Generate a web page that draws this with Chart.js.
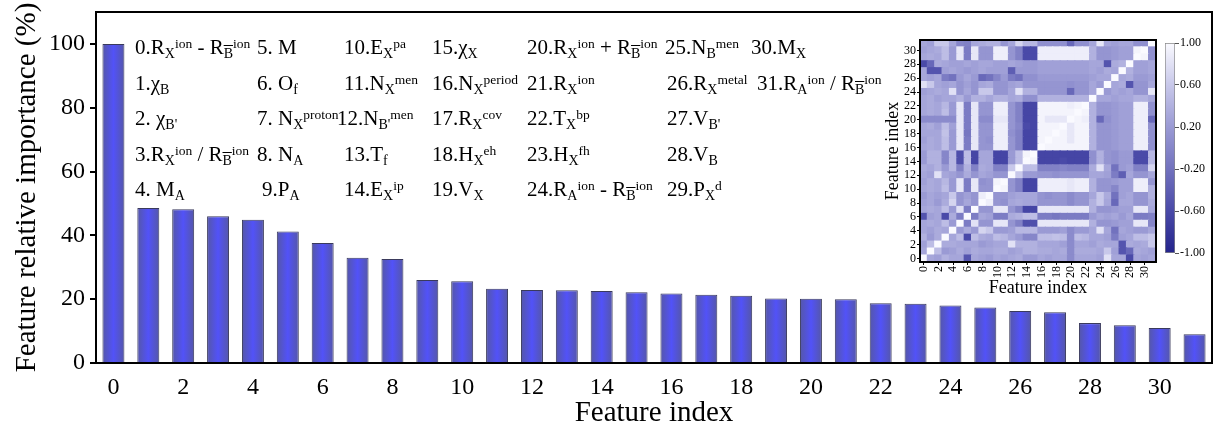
<!DOCTYPE html>
<html>
<head>
<meta charset="utf-8">
<script src="https://cdn.jsdelivr.net/npm/chart.js@4.4.0/dist/chart.umd.min.js"></script>
<style>
  body { margin: 0; background: #fff; overflow: hidden; font-family: "Liberation Serif", "Times New Roman", serif; }
  #wrap { position: relative; width: 1217px; height: 431px; }
  canvas { position: absolute; }
  .lbl { position: absolute; font-size: 21px; line-height: 21px; white-space: nowrap; color: #000; }
  .lbl .s { font-size: 14px; position: relative; top: 4px; }
  .lbl .p { font-size: 13.5px; position: relative; top: -6px; }
  .ob { text-decoration: overline; }
</style>
</head>
<body>
<div id="wrap">
  <canvas id="main" width="1217" height="431" style="left:0;top:0"></canvas>
  <canvas id="heat" width="290" height="270" style="left:880px;top:30px"></canvas>
  <canvas id="cbar" width="50" height="230" style="left:1160px;top:33px"></canvas>
</div>
<script>
// ---- data ----
const featureIdx = ['0','1','2','3','4','5','6','7','8','9','10','11','12','13','14','15',
  '16','17','18','19','20','21','22','23','24','25','26','27','28','29','30','31'];

const importance = [100, 48.6, 48.2, 46.0, 44.9, 41.2, 37.6, 33.0, 32.6, 26.0, 25.6, 23.3,
  22.9, 22.8, 22.6, 22.2, 21.8, 21.4, 21.1, 20.2, 20.1, 20.0, 18.7, 18.6, 18.0, 17.4,
  16.3, 15.9, 12.5, 11.8, 11.0, 9.0];

const yTicks = [0, 20, 40, 60, 80, 100];
const heatTicks = [0, 2, 4, 6, 8, 10, 12, 14, 16, 18, 20, 22, 24, 26, 28, 30];
const cbTicks = [-1, -0.6, -0.2, 0.2, 0.6, 1];

// correlation matrix, lower triangle (row i holds columns 0..i)
const corrLow = [
  [1],
  [0.3, 1],
  [0.25, 0.5, 1],
  [0.4, 0.2, 0.35, 1],
  [0.3, 0.25, 0.35, 0.3, 1],
  [0.3, 0.35, 0.3, 0.5, 0.2, 1],
  [-0.5, 0.25, 0.3, -0.6, 0.35, -0.1, 1],
  [0.3, 0.35, 0.3, 0.5, 0.2, 0.8, -0.1, 1],
  [0.25, 0.3, 0.2, 0.35, 0.7, 0.15, 0.3, 0.15, 1],
  [0.2, 0.3, 0.25, 0.3, 0.6, 0.15, 0.25, 0.15, 0.9, 1],
  [0.3, 0.35, 0.3, 0.5, 0.2, 0.85, -0.1, 0.85, 0.15, 0.15, 1],
  [0.25, 0.35, 0.3, 0.45, 0.2, 0.85, -0.1, 0.85, 0.1, 0.15, 0.95, 1],
  [0.3, 0.25, 0.8, 0.3, 0.25, 0.15, 0.35, 0.15, 0.3, 0.25, 0.15, 0.15, 1],
  [0.35, 0.3, 0.4, 0.2, 0.45, -0.05, 0.4, -0.05, 0.35, 0.3, -0.05, -0.05, 0.6, 1],
  [0.2, 0.4, 0.4, 0.0, 0.45, -0.55, 0.5, -0.65, 0.3, 0.3, -0.65, -0.65, 0.2, 0.5, 1],
  [0.2, 0.4, 0.4, 0.0, 0.45, -0.55, 0.5, -0.65, 0.3, 0.3, -0.65, -0.65, 0.2, 0.5, 0.95, 1],
  [0.3, 0.35, 0.3, 0.5, 0.2, 0.85, -0.1, 0.85, 0.15, 0.15, 0.9, 0.9, 0.15, -0.05, -0.65, -0.65, 1],
  [0.25, 0.35, 0.3, 0.5, 0.2, 0.85, -0.1, 0.85, 0.15, 0.1, 0.9, 0.9, 0.15, -0.05, -0.65, -0.65, 0.95, 1],
  [0.3, 0.3, 0.3, 0.55, 0.2, 0.85, -0.15, 0.85, 0.15, 0.15, 0.9, 0.9, 0.1, -0.05, -0.65, -0.65, 0.95, 0.95, 1],
  [0.3, 0.35, 0.25, 0.5, 0.25, 0.85, -0.1, 0.85, 0.15, 0.15, 0.9, 0.9, 0.15, 0.0, -0.6, -0.65, 0.95, 0.95, 0.95, 1],
  [0.05, 0.05, 0.05, 0.05, 0.05, 0.85, -0.1, 0.85, 0.05, 0.05, 0.85, 0.85, 0.15, -0.05, -0.65, -0.65, 0.95, 0.85, 0.85, 0.85, 1],
  [0.3, 0.35, 0.3, 0.5, 0.2, 0.85, -0.1, 0.85, 0.15, 0.15, 0.9, 0.9, 0.15, -0.05, -0.65, -0.65, 0.95, 0.95, 0.95, 0.95, 0.95, 1],
  [0.3, 0.35, 0.3, 0.45, 0.2, 0.85, -0.1, 0.85, 0.15, 0.15, 0.9, 0.9, 0.15, -0.05, -0.65, -0.65, 0.95, 0.95, 0.95, 0.95, 0.9, 0.95, 1],
  [0.3, 0.35, 0.25, 0.3, 0.3, 0.4, 0.2, 0.4, 0.4, 0.3, 0.4, 0.4, 0.3, 0.35, 0.1, 0.1, 0.4, 0.4, 0.4, 0.4, 0.4, 0.4, 0.4, 1],
  [0.25, 0.3, 0.35, 0.3, 0.8, 0.15, 0.3, 0.15, 0.6, 0.6, 0.15, 0.15, 0.3, 0.8, 0.4, 0.4, 0.15, 0.15, 0.15, 0.15, -0.3, 0.15, 0.15, 0.3, 1],
  [0.8, 0.6, 0.3, 0.25, 0.3, 0.15, 0.25, 0.15, 0.3, 0.35, 0.15, 0.15, 0.25, 0.3, 0.15, 0.15, 0.15, 0.15, 0.15, 0.15, 0.1, 0.15, 0.15, 0.3, 0.2, 1],
  [0.3, 0.25, 0.3, -0.1, -0.2, 0.2, 0.3, 0.2, -0.3, -0.2, 0.0, 0.2, -0.1, -0.2, 0.1, 0.1, 0.2, 0.2, 0.2, 0.2, 0.2, 0.2, 0.2, 0.25, 0.3, 0.3, 1],
  [0.3, -0.5, -0.5, 0.25, 0.3, 0.25, 0.2, 0.25, 0.3, 0.25, 0.25, 0.25, -0.4, 0.2, 0.2, 0.2, 0.25, 0.25, 0.25, 0.25, 0.25, 0.25, 0.25, 0.3, 0.25, 0.35, 0.3, 1],
  [-0.6, -0.3, 0.35, 0.3, 0.25, 0.25, 0.3, 0.25, 0.3, 0.3, 0.25, 0.25, 0.3, 0.25, 0.2, 0.2, 0.25, 0.25, 0.25, 0.25, 0.25, 0.25, 0.25, 0.3, 0.3, -0.5, 0.35, 0.4, 1],
  [0.3, 0.35, 0.3, 0.5, 0.2, 0.85, -0.1, 0.85, 0.15, 0.15, 0.9, 0.9, 0.15, -0.05, -0.6, -0.6, 0.9, 0.9, 0.9, 0.9, 0.9, 0.9, 0.9, 0.4, 0.15, 0.15, 0.2, 0.25, 0.25, 1],
  [0.25, 0.3, 0.35, 0.5, 0.2, 0.85, -0.1, 0.85, 0.15, 0.15, 0.9, 0.9, 0.15, -0.05, -0.6, -0.6, 0.9, 0.9, 0.9, 0.9, 0.9, 0.9, 0.9, 0.4, 0.15, 0.15, 0.2, 0.25, 0.25, 0.95, 1],
  [0.3, 0.25, 0.6, 0.6, 0.3, 0.0, -0.05, 0.3, 0.35, 0.4, 0.4, 0.15, 0.3, 0.7, 0.45, 0.45, 0.1, 0.1, 0.1, 0.1, -0.3, 0.1, 0.1, 0.3, 0.85, 0.3, 0.25, 0.3, 0.3, 0.1, 0.1, 1]
];

// feature names for the legend block
const s = t => '<span class="s">' + t + '</span>';
const p = t => '<span class="p">' + t + '</span>';
const ob = '<span class="ob">B</span>';
const featureNames = [
  '0.R' + s('X') + p('ion') + ' - R' + s(ob) + p('ion'),
  '1.χ' + s('B'),
  '2. χ' + s("B'"),
  '3.R' + s('X') + p('ion') + ' / R' + s(ob) + p('ion'),
  '4. M' + s('A'),
  '5. M',
  '6. O' + s('f'),
  '7. N' + s('X') + p('proton'),
  '8. N' + s('A'),
  '9.P' + s('A'),
  '10.E' + s('X') + p('pa'),
  '11.N' + s('X') + p('men'),
  '12.N' + s("B'") + p('men'),
  '13.T' + s('f'),
  '14.E' + s('X') + p('ip'),
  '15.χ' + s('X'),
  '16.N' + s('X') + p('period'),
  '17.R' + s('X') + p('cov'),
  '18.H' + s('X') + p('eh'),
  '19.V' + s('X'),
  '20.R' + s('X') + p('ion') + ' + R' + s(ob) + p('ion'),
  '21.R' + s('X') + p('ion'),
  '22.T' + s('X') + p('bp'),
  '23.H' + s('X') + p('fh'),
  '24.R' + s('A') + p('ion') + ' - R' + s(ob) + p('ion'),
  '25.N' + s('B') + p('men'),
  '26.R' + s('X') + p('metal'),
  '27.V' + s("B'"),
  '28.V' + s('B'),
  '29.P' + s('X') + p('d'),
  '30.M' + s('X'),
  '31.R' + s('A') + p('ion') + ' / R' + s(ob) + p('ion')
];

// ---- layout of the legend text ----
const annoCols = [135, 257, 344, 432, 527, 667, 755];
const annoBase = [55, 90.5, 126, 161.5, 197];
const annoFix = { 9: 262, 12: 337, 25: 665, 30: 751, 31: 757 };
const wrap = document.getElementById('wrap');
featureNames.forEach((html, i) => {
  const col = i < 30 ? Math.floor(i / 5) : 6;
  const row = i < 30 ? i % 5 : i - 30;
  const d = document.createElement('div');
  d.className = 'lbl';
  d.innerHTML = html;
  d.style.left = (annoFix[i] !== undefined ? annoFix[i] : annoCols[col]) + 'px';
  d.style.top = (annoBase[row] - 17.6) + 'px';
  wrap.appendChild(d);
});

// ---- colours ----
const stopVals = [-1, -0.6, -0.2, 0.2, 0.6, 1];
const stopRgb = [[36, 36, 140], [74, 74, 168], [114, 114, 190], [154, 154, 212], [200, 200, 234], [250, 250, 255]];
function heatColor(v) {
  let k = 0;
  while (k < stopVals.length - 2 && v > stopVals[k + 1]) k++;
  const t = Math.max(0, Math.min(1, (v - stopVals[k]) / (stopVals[k + 1] - stopVals[k])));
  const a = stopRgb[k], b = stopRgb[k + 1];
  return 'rgb(' + [0, 1, 2].map(j => Math.round(a[j] + (b[j] - a[j]) * t)).join(',') + ')';
}

Chart.defaults.font.family = '"Liberation Serif", "Times New Roman", serif';
Chart.defaults.color = '#000';

const frame = {
  id: 'frame',
  afterDraw(chart, args, opts) {
    const a = chart.chartArea, ctx = chart.ctx;
    ctx.save();
    ctx.strokeStyle = '#000';
    ctx.lineWidth = opts.w || 2;
    ctx.strokeRect(a.left, a.top, a.right - a.left, a.bottom - a.top);
    ctx.restore();
  }
};

const noPad = sc => { sc.paddingTop = 0; sc.paddingBottom = 0; sc.paddingLeft = 0; sc.paddingRight = 0; };

function barFill(ctx) {
  const ch = ctx.chart, xs = ch.scales.x;
  if (!ch.chartArea || !xs) return '#5656dc';
  const cx = xs.getPixelForValue(ctx.dataIndex);
  const half = xs.width / featureIdx.length * 0.63 / 2;
  const g = ch.ctx.createLinearGradient(cx - half, 0, cx + half, 0);
  g.addColorStop(0, '#5557a8');
  g.addColorStop(0.5, '#5252f8');
  g.addColorStop(1, '#5557a8');
  return g;
}

// ---- main bar chart ----
new Chart(document.getElementById('main'), {
  type: 'bar',
  data: {
    labels: featureIdx,
    datasets: [{
      data: importance,
      backgroundColor: barFill,
      borderColor: '#3a3a5c',
      borderWidth: 1,
      barPercentage: 0.63,
      categoryPercentage: 1
    }]
  },
  options: {
    responsive: false,
    animation: false,
    layout: { padding: { left: 0, right: 5, top: 12, bottom: 0 } },
    plugins: { legend: { display: false }, tooltip: { enabled: false }, frame: { w: 2 } },
    scales: {
      x: {
        grid: { display: false },
        border: { display: false },
        ticks: {
          autoSkip: false, maxRotation: 0, padding: 2, font: { size: 24 },
          callback: (v, i) => (i % 2 ? '' : featureIdx[i])
        },
        title: { display: true, text: 'Feature index', font: { size: 29 }, padding: { top: 0, bottom: 0 } },
        afterFit: sc => { sc.height = 68; noPad(sc); }
      },
      y: {
        min: 0, max: 110,
        afterBuildTicks: sc => { sc.ticks = yTicks.map(v => ({ value: v })); },
        grid: { drawOnChartArea: false, tickLength: 6, color: '#000', lineWidth: 2 },
        border: { display: false },
        ticks: { padding: 5, font: { size: 24 } },
        title: { display: true, text: 'Feature relative importance (%)', font: { size: 29 }, padding: { top: 10, bottom: 0 } },
        afterFit: sc => { sc.width = 96; noPad(sc); }
      }
    }
  },
  plugins: [frame]
});

// ---- inset heatmap ----
const corr = featureIdx.map((_, i) => featureIdx.map((_, j) => (i >= j ? corrLow[i][j] : corrLow[j][i])));
const heatSets = corr.map((row, r) => ({
  data: featureIdx.map(() => [r - 0.5, r + 0.5]),
  backgroundColor: row.map(heatColor),
  borderWidth: 0,
  barPercentage: 1,
  categoryPercentage: 1,
  grouped: false,
  inflateAmount: 0.6
}));

new Chart(document.getElementById('heat'), {
  type: 'bar',
  data: { labels: featureIdx, datasets: heatSets },
  options: {
    responsive: false,
    animation: false,
    layout: { padding: { left: 0, right: 14, top: 10, bottom: 0 } },
    plugins: { legend: { display: false }, tooltip: { enabled: false }, frame: { w: 2 } },
    scales: {
      x: {
        grid: { offset: false, drawOnChartArea: false, tickLength: 3, color: c => (c.index % 2 ? 'rgba(0,0,0,0)' : '#000') },
        border: { display: false },
        ticks: {
          autoSkip: false, minRotation: 90, maxRotation: 90, padding: 1, font: { size: 12 },
          callback: (v, i) => (i % 2 ? '' : featureIdx[i])
        },
        title: { display: true, text: 'Feature index', font: { size: 18 }, padding: { top: 0, bottom: 1 } },
        afterFit: sc => { sc.height = 38; noPad(sc); }
      },
      y: {
        min: -0.5, max: 31.5,
        afterBuildTicks: sc => { sc.ticks = heatTicks.map(v => ({ value: v })); },
        grid: { drawOnChartArea: false, tickLength: 3, color: '#000' },
        border: { display: false },
        ticks: { autoSkip: false, padding: 1, font: { size: 12 } },
        title: { display: true, text: 'Feature index', font: { size: 18 }, padding: { top: 2, bottom: 0 } },
        afterFit: sc => { sc.width = 40; noPad(sc); }
      }
    }
  },
  plugins: [frame]
});

// ---- colour bar ----
function cbFill(ctx) {
  const a = ctx.chart.chartArea;
  if (!a) return '#9a9ad4';
  const g = ctx.chart.ctx.createLinearGradient(0, a.bottom, 0, a.top);
  stopVals.forEach(v => g.addColorStop((v + 1) / 2, heatColor(v)));
  return g;
}

new Chart(document.getElementById('cbar'), {
  type: 'bar',
  data: {
    labels: [''],
    datasets: [{
      data: [[-1, 1]],
      backgroundColor: cbFill,
      borderColor: '#888',
      borderWidth: 1,
      borderSkipped: false,
      barPercentage: 1,
      categoryPercentage: 1
    }]
  },
  options: {
    responsive: false,
    animation: false,
    layout: { padding: { left: 5, right: 0, top: 10, bottom: 10 } },
    plugins: { legend: { display: false }, tooltip: { enabled: false } },
    scales: {
      x: { display: false },
      y: {
        position: 'right',
        min: -1, max: 1,
        afterBuildTicks: sc => { sc.ticks = cbTicks.map(v => ({ value: v })); },
        grid: { drawOnChartArea: false, tickLength: 4, color: '#555' },
        border: { display: false },
        ticks: { autoSkip: false, padding: 1, font: { size: 12 }, callback: v => v.toFixed(2) },
        afterFit: sc => { sc.width = 35; noPad(sc); }
      }
    }
  }
});
</script>
</body>
</html>
